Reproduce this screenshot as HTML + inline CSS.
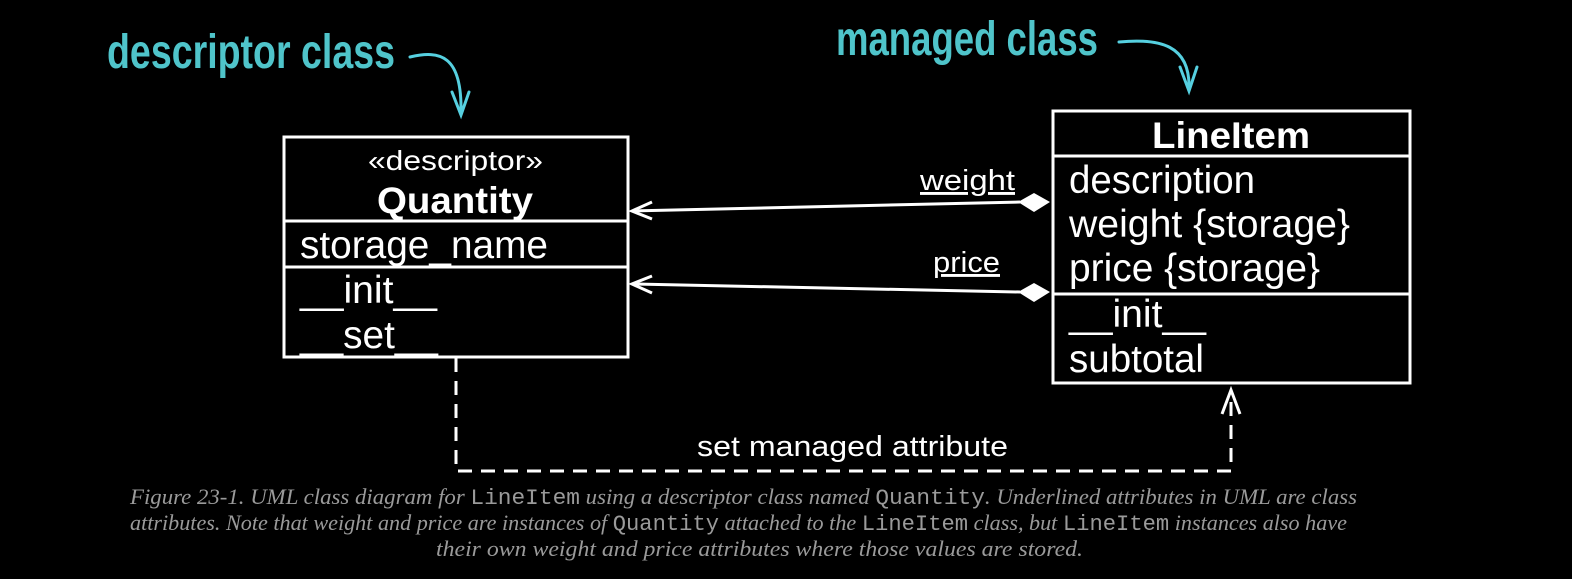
<!DOCTYPE html>
<html><head><meta charset="utf-8"><style>html,body{margin:0;padding:0;background:#000;}svg{display:block}</style></head>
<body>
<svg width="1572" height="579" viewBox="0 0 1572 579" xmlns="http://www.w3.org/2000/svg">
<rect width="1572" height="579" fill="#000"/>
<g font-family="Liberation Sans Narrow, Liberation Sans, sans-serif" font-weight="bold" fill="#4fc4ca">
<text x="107" y="68" font-size="48" textLength="288" lengthAdjust="spacingAndGlyphs">descriptor class</text>
<text x="836" y="55" font-size="48" textLength="262" lengthAdjust="spacingAndGlyphs">managed class</text>
</g>
<g fill="none" stroke="#56d0e0" stroke-width="3" stroke-linecap="round">
<path d="M410 57 C440 50 462 55 461 112"/>
<path d="M452 92 L461 115 L469 92"/>
<path d="M1119 42 C1160 38 1190 45 1189 88"/>
<path d="M1180 67 L1189 91 L1197 67"/>
</g>
<g fill="none" stroke="#fff" stroke-width="3">
<rect x="284" y="137" width="344" height="220"/>
<line x1="284" y1="221" x2="628" y2="221"/>
<line x1="284" y1="267" x2="628" y2="267"/>
<rect x="1053" y="111" width="357" height="272"/>
<line x1="1053" y1="156" x2="1410" y2="156"/>
<line x1="1053" y1="294" x2="1410" y2="294"/>
<line x1="1020" y1="202" x2="632" y2="211"/>
<path d="M652 202 L632 211 L652 219"/>
<line x1="1020" y1="292" x2="632" y2="284"/>
<path d="M652 276 L632 284 L652 293"/>
<path d="M456 358 L456 471 L1231 471 L1231 392" stroke-dasharray="14 9"/>
<path d="M1222 414 L1231 390 L1240 414"/>
</g>
<path d="M1018 202 L1034 193 L1050 202 L1034 212 Z" fill="#fff"/>
<path d="M1018 292 L1034 283 L1050 292 L1034 302 Z" fill="#fff"/>
<g font-family="Liberation Sans, sans-serif" fill="#fff">
<text x="368" y="170" font-size="28" textLength="175" lengthAdjust="spacingAndGlyphs">«descriptor»</text>
<text x="377" y="213" font-size="37" font-weight="bold" textLength="156" lengthAdjust="spacingAndGlyphs">Quantity</text>
<text x="300" y="258" font-size="39" textLength="248" lengthAdjust="spacingAndGlyphs">storage_name</text>
<text x="300" y="303" font-size="39" textLength="137" lengthAdjust="spacingAndGlyphs">__init__</text>
<text x="300" y="348" font-size="39" textLength="138" lengthAdjust="spacingAndGlyphs">__set__</text>
<text x="1152" y="148" font-size="37" font-weight="bold" textLength="158" lengthAdjust="spacingAndGlyphs">LineItem</text>
<text x="1069" y="193" font-size="39" textLength="186" lengthAdjust="spacingAndGlyphs">description</text>
<text x="1069" y="237" font-size="39" textLength="281" lengthAdjust="spacingAndGlyphs">weight {storage}</text>
<text x="1069" y="281" font-size="39" textLength="251" lengthAdjust="spacingAndGlyphs">price {storage}</text>
<text x="1069" y="327" font-size="39" textLength="137" lengthAdjust="spacingAndGlyphs">__init__</text>
<text x="1069" y="372" font-size="39" textLength="135" lengthAdjust="spacingAndGlyphs">subtotal</text>
<text x="920" y="190" font-size="29" text-decoration="underline" textLength="95" lengthAdjust="spacingAndGlyphs">weight</text>
<text x="933" y="272" font-size="29" text-decoration="underline" textLength="67" lengthAdjust="spacingAndGlyphs">price</text>
<text x="697" y="456" font-size="29" textLength="311" lengthAdjust="spacingAndGlyphs">set managed attribute</text>
</g>
<g font-family="Liberation Serif, serif" font-style="italic" font-size="22" fill="#9a9a9a">
<text x="130" y="504" textLength="1227" lengthAdjust="spacingAndGlyphs">Figure 23-1. UML class diagram for <tspan font-family="Liberation Mono, monospace" font-style="normal">LineItem</tspan> using a descriptor class named <tspan font-family="Liberation Mono, monospace" font-style="normal">Quantity</tspan>. Underlined attributes in UML are class</text>
<text x="130" y="530" textLength="1217" lengthAdjust="spacingAndGlyphs">attributes. Note that weight and price are instances of <tspan font-family="Liberation Mono, monospace" font-style="normal">Quantity</tspan> attached to the <tspan font-family="Liberation Mono, monospace" font-style="normal">LineItem</tspan> class, but <tspan font-family="Liberation Mono, monospace" font-style="normal">LineItem</tspan> instances also have</text>
<text x="436" y="556" textLength="647" lengthAdjust="spacingAndGlyphs">their own weight and price attributes where those values are stored.</text>
</g>
</svg>
</body></html>
